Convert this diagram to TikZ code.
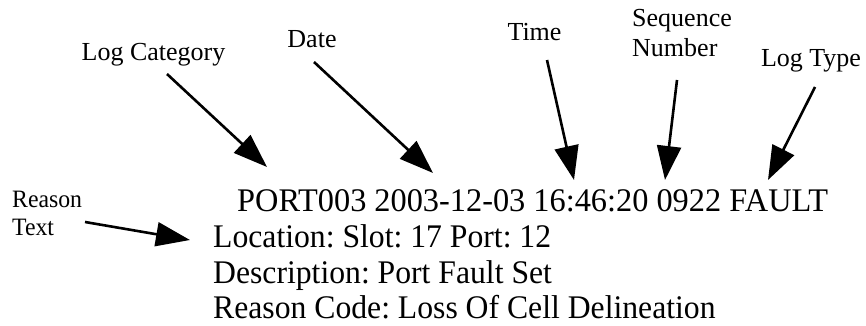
\documentclass[tikz,border=0pt]{standalone}
\usepackage{fontspec}
\setmainfont{Liberation Serif}
\usetikzlibrary{arrows.meta}
\tikzset{
  lbl/.style={inner sep=0pt, font=\fontsize{26}{30}\selectfont\frenchspacing},
  main/.style={inner sep=0pt, anchor=base west, font=\fontsize{33}{36}\selectfont\frenchspacing},
  ptr/.style={line width=2.6pt, -{Triangle[length=34pt,width=24pt]}}
}
\begin{document}
\begin{tikzpicture}[x=1pt,y=-1pt]
\useasboundingbox (0,0) rectangle (866,326);
% labels
\node[lbl, anchor=base] (cat) at (153.5,61) {Log Category};
\node[lbl, anchor=base] (date) at (312,48) {Date};
\node[lbl, anchor=base] (time) at (534.5,41) {Time};
\node[lbl, anchor=base west, align=left] (seq) at (632,57) {Sequence\\Number};
\node[lbl, anchor=base] (type) at (811,67) {Log Type};
\node[lbl, anchor=base west, align=left, font=\fontsize{25}{28}\selectfont, xscale=0.95] (reason) at (12,235) {Reason\\Text};
% main text
\node[main, xscale=0.98] (l1) at (237,211) {PORT003 2003-12-03 16:46:20 0922 FAULT};
\node[main, xscale=0.96] (l2) at (213,247) {Location: Slot: 17 Port: 12};
\node[main, xscale=0.96] (l3) at (213,283) {Description: Port Fault Set};
\node[main, xscale=0.96] (l4) at (213,318) {Reason Code: Loss Of Cell Delineation};
% arrow ends
\coordinate (catS) at (167,74);  \coordinate (catE) at (267,167);
\coordinate (dateS) at (314,62); \coordinate (dateE) at (433,173);
\coordinate (timeS) at (547,60); \coordinate (timeE) at (574,180);
\coordinate (seqS) at (677,80);  \coordinate (seqE) at (665,180);
\coordinate (typeS) at (815,87); \coordinate (typeE) at (768,180);
\coordinate (reaS) at (85,222);  \coordinate (reaE) at (190,240);
\draw[ptr] (catS) -- (catE);
\draw[ptr] (dateS) -- (dateE);
\draw[ptr] (timeS) -- (timeE);
\draw[ptr] (seqS) -- (seqE);
\draw[ptr] (typeS) -- (typeE);
\draw[ptr] (reaS) -- (reaE);
\end{tikzpicture}
\end{document}
